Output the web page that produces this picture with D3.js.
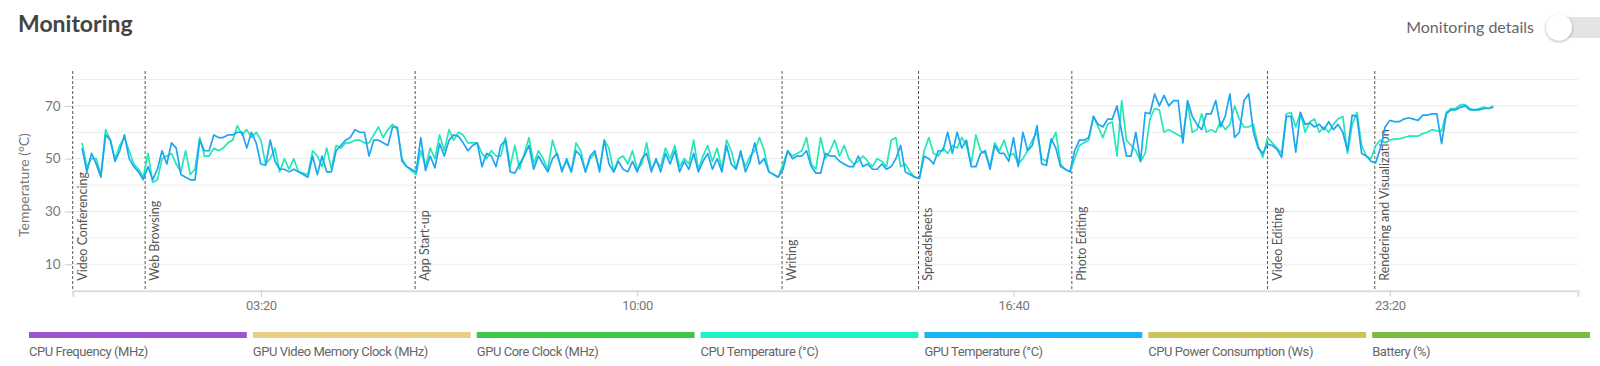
<!DOCTYPE html>
<html>
<head>
<meta charset="utf-8">
<script src="https://cdn.jsdelivr.net/npm/d3@7"></script>
<style>
  html, body { margin: 0; padding: 0; background: #ffffff; }
  svg { display: block; }
</style>
</head>
<body>
<svg id="chart" width="1600" height="366"></svg>
<script>
// ---------------- data ----------------
const sampleStart = 10;   // seconds
const sampleStep = 5;     // seconds between samples

const gpuTemperature = [
  54,45,52,48,43,59,57,49,53,59,50,47,45,42,47,42,46,53,48,56,54,44,43,42,42,57,53,53,59,58,58,59,59,60,60,54,60,56,48,47.5,57,49,46,46,45,46,45,44,
  43,51,44,51,45,45,53,55,57,58,61,60,60,51,57,57,56,55,62,62,49,47,46,45,58,45.5,51,46.5,55.7,51,57,59,58.5,56,53,55,56,47,52,51,47,55,57,45,44.5,48,51,55,46,51,
  48,45,50,52,45,50,45,53,51,45,51,53,45,57,48,45,49,46,45,49,45,50,52,45,50,45,52,48,53,45,49,46,52,45,49,52,46,50,45,55,48,46,53,45,49,56,48,50,45,44,
  43,46,53,50,51,51,53,47,44.5,44.5,52,51,51,49,48,47,47,51,47,48,46,46,48,46,47,50,55,45,44,43,42.5,51,50,48,53,53,60,52,60,54,57,47,47,52,53,46,55,52,52,49,
  58,47,60,53,55,62.5,48,47.5,57.5,54,47,46,45,53,57,57,58,66,63,62,65,65,70,60,51,51,60,49,67.5,67,74.5,70,74,70,72,72,56,72,66,63,61,67,67,72,62,66,74.5,58,60,72,
  74.5,60,54,52,55.5,55,53.5,50.5,66,66,52.5,67.5,63,63.5,62,63,61,64,61,63,60,53,66.5,66,52,51,49,48.5,54,62,64.5,64,64,65,65.5,65,64.5,66.5,66.5,67,67,55.7,67,68.5,68.5,69.5,70,68.5,68.5,68.5,69,69,69.5
];

const cpuTemperature = [
  56,47,50,50,44,61,57,50,55,58,53,48,46,43,52,41,42,50,51,52,48,45,53,44,46,58,51,51,54,53,54,56,57,62.5,59,61,58,60,57,48,50,54,45,50,46,50,45,44.5,
  44,53,51,47,54,46,55,54,56,56,57,57,56,56,59,62,58,61,63,61,50,47,45.5,44,53,47,54,50,59,53,61,57,60,59,56,56,56,52,50,53,51,51,58,47,55,46,52,58,48,53,
  50,46,57,51,46,49,45,56,53,45,50,52,46,57,54,45,50,51,48,53,46,48,56,46,49,47,54,50,55,47,50,48,57,46,51,55,49,54,46,57,53,46,52,47,51,53,58,53,45,44,
  43,48,53,51,52,53,58,48,46,58,50,53,57,51,55,50,48,49,51,49,47,50,49,47,57,58,47,48,45,43,42.5,53,58,52,51,54,52,55,54,58,55,48,59,53,52,47,56,53,57,51,
  52,48,50,53,57,60,50,49,56,60,48,46,45,50,55,56,57,66,62,58,63,64,51,72,57,55,53,49,52,65,69,68.5,60,61,60,59,58,71,60,61,67,60,61,60,64,61,63,70,65,62,
  62,63,55,50.5,58,56,54,52,67,67.5,62,67.5,60,64,65,60,62,60,63,65,66,52,63,67.5,55,51,50,55,57,56,57,57.5,57.5,58,58.5,58.5,58.5,59.5,60,61,60.5,60.5,67.5,69,69,70.5,70.5,69,68.5,69,69.5,69,70
];

const markerTimes  = [0, 77, 364, 754, 899, 1062, 1270, 1384];
const markerLabels = ["Video Conferencing", "Web Browsing", "App Start-up", "Writing",
                      "Spreadsheets", "Photo Editing", "Video Editing", "Rendering and Visualization"];

const xTickValues = [200, 600, 1000, 1400];
const xTickLabels = ["03:20", "10:00", "16:40", "23:20"];
const yTickValues = [10, 30, 50, 70];
const yGridValues = [10, 20, 30, 40, 50, 60, 70, 80];

const legendNames  = ["CPU Frequency (MHz)", "GPU Video Memory Clock (MHz)", "GPU Core Clock (MHz)",
                      "CPU Temperature (°C)", "GPU Temperature (°C)", "CPU Power Consumption (Ws)", "Battery (%)"];
const legendColors = ["#9b55d0", "#eacd86", "#3cc843", "#1ef2c6", "#1ab3f6", "#cac559", "#79bd3f"];

// ---------------- layout ----------------
const svg = d3.select("#chart");
const plot = { left: 72.7, right: 1578, top: 71, bottom: 290.7 };

const x = d3.scaleLinear().domain([0, 1600]).range([plot.left, plot.right]);
const y = d3.scaleLinear().domain([0, 83.2]).range([plot.bottom, plot.top]);

// title
svg.append("text")
  .attr("x", 18).attr("y", 32)
  .attr("font-family", "Lato, sans-serif")
  .attr("font-weight", 700)
  .attr("font-size", 23)
  .attr("fill", "#444")
  .text("Monitoring");

// toggle
svg.append("defs").html(
  '<filter id="sh" x="-50%" y="-50%" width="200%" height="200%">' +
  '<feDropShadow dx="0" dy="1" stdDeviation="1.6" flood-color="#000" flood-opacity="0.35"/></filter>');
svg.append("text")
  .attr("x", 1534).attr("y", 33)
  .attr("text-anchor", "end")
  .attr("font-family", "Lato, sans-serif")
  .attr("font-size", 16)
  .attr("fill", "#666")
  .text("Monitoring details");
svg.append("rect")
  .attr("x", 1546).attr("y", 17).attr("width", 70).attr("height", 21).attr("rx", 10.5)
  .attr("fill", "#e4e4e4");
svg.append("circle")
  .attr("cx", 1559).attr("cy", 27.5).attr("r", 13)
  .attr("fill", "#fff").attr("filter", "url(#sh)");

// grid
svg.append("g").selectAll("line").data(yGridValues).join("line")
  .attr("x1", plot.left).attr("x2", plot.right)
  .attr("y1", d => y(d)).attr("y2", d => y(d))
  .attr("stroke", "#ececec").attr("stroke-width", 1);

// y axis
const yAxis = svg.append("g")
  .attr("transform", `translate(${plot.left},0)`)
  .call(d3.axisLeft(y).tickValues(yTickValues).tickSize(8).tickPadding(4));
yAxis.select(".domain").remove();
yAxis.selectAll(".tick line").attr("stroke", "#ccc");
yAxis.selectAll(".tick text")
  .attr("font-family", "Lato, sans-serif").attr("font-size", 13.5).attr("fill", "#777");

svg.append("text")
  .attr("transform", `translate(29,${(y(10) + y(70)) / 2}) rotate(-90)`)
  .attr("text-anchor", "middle")
  .attr("font-family", "Lato, sans-serif")
  .attr("font-size", 14)
  .attr("fill", "#777")
  .text("Temperature (°C)");

// x axis
const xAxis = svg.append("g")
  .attr("transform", `translate(0,${plot.bottom})`)
  .call(d3.axisBottom(x).tickValues(xTickValues)
        .tickFormat((d, i) => xTickLabels[i]).tickSize(6).tickSizeOuter(6).tickPadding(4));
xAxis.select(".domain").attr("stroke", "#dcdcdc").attr("stroke-width", 2);
xAxis.selectAll(".tick line").attr("stroke", "#ccc");
xAxis.selectAll(".tick text")
  .attr("font-family", "Roboto, sans-serif").attr("font-size", 13).attr("fill", "#777")
  .attr("letter-spacing", -0.3);

// markers
const mk = svg.append("g");
mk.selectAll("line").data(markerTimes).join("line")
  .attr("x1", d => x(d)).attr("x2", d => x(d))
  .attr("y1", plot.top).attr("y2", plot.bottom)
  .attr("stroke", "#555").attr("stroke-width", 1).attr("stroke-dasharray", "3,2");
mk.selectAll("text").data(markerTimes).join("text")
  .attr("transform", d => `translate(${x(d) + 14},${plot.bottom - 10}) rotate(-90)`)
  .attr("font-family", "Lato, sans-serif")
  .attr("font-size", 12.5)
  .attr("fill", "#555")
  .text((d, i) => markerLabels[i]);

// lines
const line = d3.line()
  .x((d, i) => x(sampleStart + i * sampleStep))
  .y(d => y(d));

svg.append("path").datum(cpuTemperature)
  .attr("d", line).attr("fill", "none")
  .attr("stroke", "#22e8b8").attr("stroke-width", 1.7).attr("stroke-linejoin", "round");
svg.append("path").datum(gpuTemperature)
  .attr("d", line).attr("fill", "none")
  .attr("stroke", "#1ea6f2").attr("stroke-width", 1.7).attr("stroke-linejoin", "round");

// legend
const legendX = d3.scaleBand().domain(d3.range(legendNames.length)).range([29, 1590]).paddingInner(0.027);
const lg = svg.append("g").selectAll("g").data(legendNames).join("g")
  .attr("transform", (d, i) => `translate(${legendX(i)},0)`);
lg.append("rect")
  .attr("x", 0).attr("y", 332).attr("width", legendX.bandwidth()).attr("height", 6)
  .attr("fill", (d, i) => legendColors[i]);
lg.append("text")
  .attr("x", 0).attr("y", 356)
  .attr("font-family", "Roboto, sans-serif")
  .attr("font-size", 13)
  .attr("letter-spacing", -0.45)
  .attr("fill", "#666")
  .text(d => d);
</script>
</body>
</html>
